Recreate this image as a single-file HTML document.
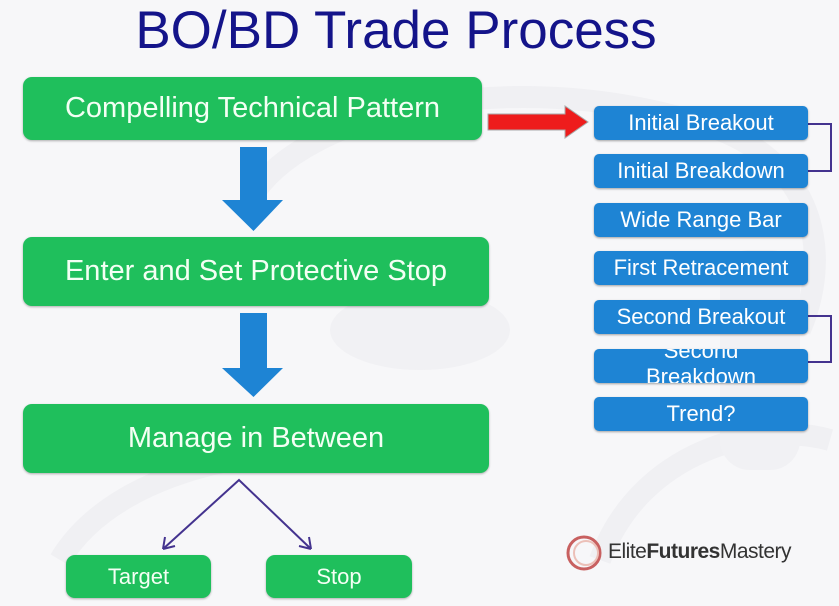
<!DOCTYPE html>
<html><head><meta charset="utf-8"><style>
body{margin:0;width:839px;height:606px;overflow:hidden;background:#f7f7f9;font-family:"Liberation Sans",sans-serif;position:relative}
.t{position:absolute;left:0;width:792px;text-align:center;top:0px;font-size:53px;color:#14148a}
.g{position:absolute;background:#1fbf5c;border-radius:9px;color:#f4fff4;text-align:center;box-shadow:0 1px 2px rgba(0,0,0,.3);white-space:nowrap}
.b{position:absolute;left:594px;width:214px;height:34px;background:#1e84d4;border-radius:5px;color:#fff;text-align:center;font-size:22px;line-height:34px;box-shadow:0 1px 2px rgba(0,0,0,.35);overflow:hidden;white-space:nowrap}
</style></head><body>
<svg width="839" height="606" style="position:absolute;left:0;top:0">
<g fill="none" stroke="#f0f0f3" stroke-width="22">
<path d="M250 200 C300 110 520 60 720 130 C820 170 830 260 800 330"/>
<path d="M60 560 C120 460 300 430 480 460"/>
<path d="M600 560 C640 450 760 420 830 440"/>
</g>
<g fill="#f1f1f4"><ellipse cx="420" cy="330" rx="90" ry="40"/><rect x="720" y="250" width="80" height="220" rx="30"/></g>
<path d="M240 147H267V200H283L253.5 231L222 200H240Z" fill="#1e84d4"/>
<path d="M240 313H267V368H283L253.5 397L222 368H240Z" fill="#1e84d4"/>
<path d="M488 114H565V106L588 122L565 138V130H488Z" fill="#ee1c1c" stroke="#aaa" stroke-width="1"/>
<g fill="none" stroke="#44338f" stroke-width="2">
<path d="M808 124H831V171H808"/><path d="M808 316H831V362H808"/>
<path d="M163 549L239 480L311 549"/>
<path d="M163 549l2-12M163 549l12-3M311 549l-2-12M311 549l-12-3"/>
</g>
<circle cx="584" cy="553" r="16" fill="none" stroke="#c86060" stroke-width="3"/>
<circle cx="586" cy="553" r="12" fill="none" stroke="#ecc0b8" stroke-width="2"/>
</svg>
<div class="t">BO/BD Trade Process</div>
<div class="g" style="left:23px;top:77px;width:459px;height:63px;line-height:63px;font-size:29px">Compelling Technical Pattern</div>
<div class="g" style="left:23px;top:237px;width:466px;height:69px;line-height:69px;font-size:29px">Enter and Set Protective Stop</div>
<div class="g" style="left:23px;top:404px;width:466px;height:69px;line-height:69px;font-size:29px">Manage in Between</div>
<div class="g" style="left:66px;top:555px;width:145px;height:43px;line-height:43px;font-size:22px">Target</div>
<div class="g" style="left:266px;top:555px;width:146px;height:43px;line-height:43px;font-size:22px">Stop</div>
<div class="b" style="top:106px">Initial Breakout</div>
<div class="b" style="top:154px">Initial Breakdown</div>
<div class="b" style="top:203px">Wide Range Bar</div>
<div class="b" style="top:251px">First Retracement</div>
<div class="b" style="top:300px">Second Breakout</div>
<div class="b" style="top:349px;line-height:26px"><div style="margin-top:-11px">Second<br>Breakdown</div></div>
<div class="b" style="top:397px">Trend?</div>
<div style="position:absolute;left:608px;top:540px;font-size:21px;color:#333;letter-spacing:-0.5px">Elite<b>Futures</b>Mastery</div>
</body></html>
